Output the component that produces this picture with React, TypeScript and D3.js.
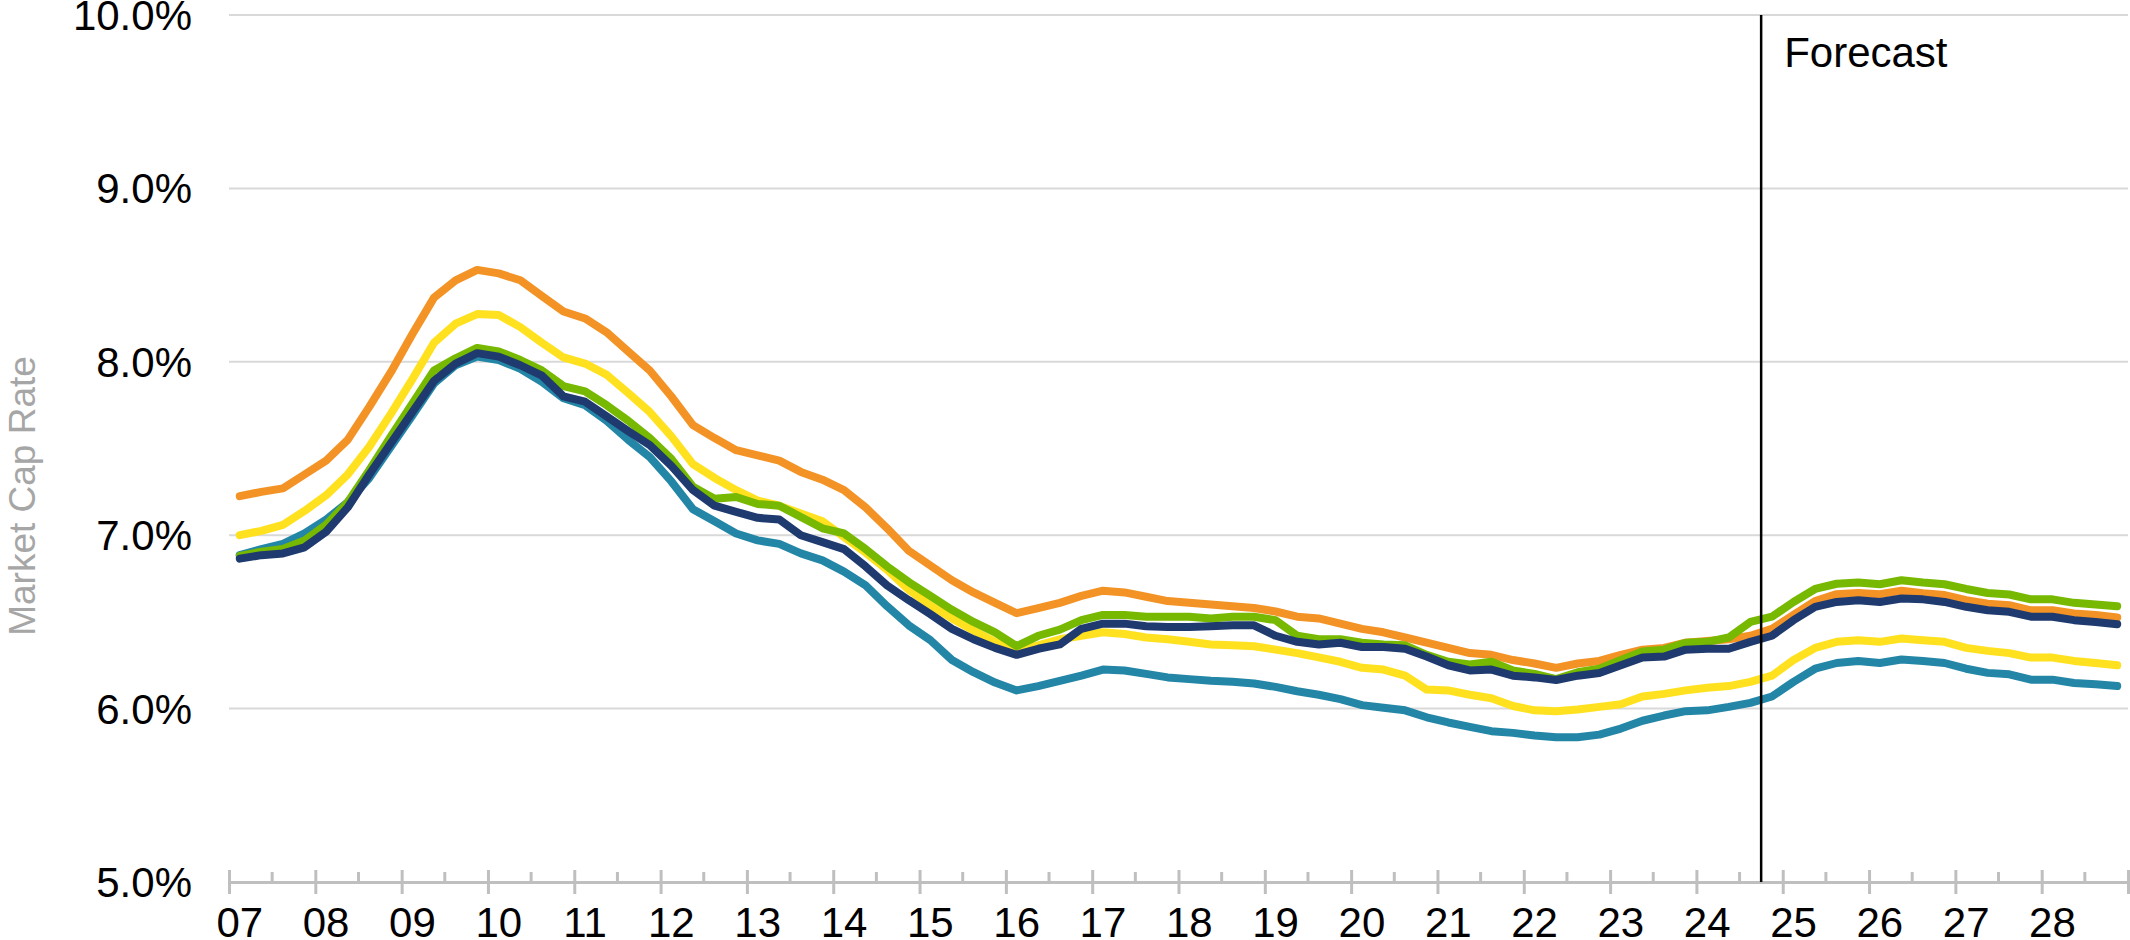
import * as d3 from 'd3';
import React, { useRef, useEffect } from 'react';

// quarterly cap rates (%), 2007 Q1 .. 2028 Q4
const yearLabels = ['07', '08', '09', '10', '11', '12', '13', '14', '15', '16', '17',
    '18', '19', '20', '21', '22', '23', '24', '25', '26', '27', '28'];
const yTicks = [5, 6, 7, 8, 9, 10];
const forecastStart = 2024.75;

const orangeSeries = [
    7.225, 7.25, 7.27, 7.35, 7.43, 7.55, 7.74, 7.94, 8.16, 8.37,
    8.47, 8.53, 8.51, 8.47, 8.38, 8.29, 8.25, 8.17, 8.06, 7.95,
    7.80, 7.635, 7.56, 7.49, 7.46, 7.43, 7.365, 7.32, 7.26, 7.16,
    7.04, 6.91, 6.825, 6.74, 6.67, 6.61, 6.55, 6.58, 6.61, 6.65,
    6.68, 6.67, 6.645, 6.62, 6.61, 6.60, 6.59, 6.58, 6.56, 6.53,
    6.52, 6.49, 6.46, 6.44, 6.41, 6.38, 6.35, 6.32, 6.31, 6.28,
    6.26, 6.235, 6.26, 6.275, 6.31, 6.34, 6.35, 6.38, 6.39, 6.40,
    6.42, 6.46, 6.54, 6.62, 6.66, 6.667, 6.66, 6.68, 6.665, 6.655,
    6.625, 6.605, 6.596, 6.567, 6.567, 6.548, 6.54, 6.525
];

const yellowSeries = [
    7.0, 7.025, 7.06, 7.14, 7.23, 7.35, 7.51, 7.70, 7.90, 8.11,
    8.22, 8.275, 8.27, 8.20, 8.11, 8.025, 7.99, 7.925, 7.82, 7.71,
    7.57, 7.41, 7.33, 7.26, 7.20, 7.17, 7.125, 7.08, 6.99, 6.90,
    6.80, 6.685, 6.595, 6.52, 6.45, 6.385, 6.33, 6.365, 6.40, 6.42,
    6.44, 6.43, 6.41, 6.40, 6.385, 6.37, 6.365, 6.36, 6.34, 6.32,
    6.295, 6.27, 6.235, 6.225, 6.19, 6.11, 6.105, 6.08, 6.06, 6.015,
    5.99, 5.985, 5.995, 6.01, 6.025, 6.07, 6.085, 6.105, 6.12, 6.13,
    6.154, 6.19, 6.28, 6.35, 6.385, 6.394, 6.385, 6.404, 6.394, 6.385,
    6.35, 6.333, 6.32, 6.294, 6.294, 6.275, 6.263, 6.25
];

const greenSeries = [
    6.88, 6.905, 6.92, 6.97, 7.06, 7.19, 7.375, 7.57, 7.76, 7.95,
    8.02, 8.08, 8.06, 8.01, 7.95, 7.86, 7.83, 7.75, 7.66, 7.56,
    7.44, 7.28, 7.21, 7.22, 7.18, 7.17, 7.105, 7.04, 7.01, 6.92,
    6.82, 6.73, 6.65, 6.57, 6.50, 6.44, 6.36, 6.42, 6.455, 6.51,
    6.54, 6.54, 6.53, 6.53, 6.53, 6.52, 6.53, 6.53, 6.51, 6.42,
    6.40, 6.40, 6.38, 6.37, 6.365, 6.31, 6.27, 6.255, 6.27, 6.22,
    6.20, 6.17, 6.21, 6.23, 6.28, 6.33, 6.34, 6.38, 6.385, 6.41,
    6.50, 6.53, 6.615, 6.69, 6.72, 6.727, 6.717, 6.74, 6.727, 6.717,
    6.69, 6.667, 6.658, 6.63, 6.63, 6.61, 6.60, 6.59
];

const navySeries = [
    6.865, 6.885, 6.895, 6.93, 7.02, 7.16, 7.35, 7.53, 7.71, 7.89,
    7.99, 8.05, 8.03, 7.98, 7.92, 7.80, 7.77, 7.685, 7.60, 7.52,
    7.40, 7.26, 7.17, 7.135, 7.10, 7.09, 7.00, 6.96, 6.92, 6.82,
    6.71, 6.625, 6.545, 6.46, 6.40, 6.35, 6.31, 6.345, 6.37, 6.46,
    6.49, 6.49, 6.475, 6.47, 6.47, 6.475, 6.48, 6.48, 6.42, 6.385,
    6.37, 6.38, 6.355, 6.355, 6.345, 6.30, 6.25, 6.22, 6.225, 6.19,
    6.18, 6.165, 6.19, 6.205, 6.25, 6.295, 6.30, 6.34, 6.345, 6.345,
    6.385, 6.42, 6.51, 6.587, 6.615, 6.625, 6.615, 6.635, 6.63, 6.615,
    6.587, 6.567, 6.558, 6.53, 6.53, 6.51, 6.50, 6.487
];

const tealSeries = [
    6.885, 6.92, 6.95, 7.01, 7.09, 7.19, 7.33, 7.51, 7.69, 7.875,
    7.98, 8.03, 8.01, 7.96, 7.885, 7.79, 7.75, 7.66, 7.55, 7.45,
    7.31, 7.15, 7.08, 7.01, 6.97, 6.95, 6.895, 6.855, 6.79, 6.71,
    6.59, 6.48, 6.395, 6.28, 6.21, 6.15, 6.105, 6.13, 6.16, 6.19,
    6.225, 6.22, 6.20, 6.18, 6.17, 6.16, 6.155, 6.145, 6.125, 6.10,
    6.08, 6.055, 6.02, 6.005, 5.99, 5.95, 5.92, 5.895, 5.87, 5.86,
    5.845, 5.835, 5.835, 5.85, 5.885, 5.93, 5.96, 5.985, 5.99, 6.01,
    6.033, 6.07, 6.154, 6.23, 6.263, 6.275, 6.263, 6.283, 6.275, 6.263,
    6.23, 6.206, 6.198, 6.167, 6.167, 6.148, 6.14, 6.13
];

// drawing order: first is at the back
const series = [
    { color: '#2386A7', values: tealSeries },
    { color: '#F39325', values: orangeSeries },
    { color: '#FFE11F', values: yellowSeries },
    { color: '#76B900', values: greenSeries },
    { color: '#1F3A6E', values: navySeries },
];

const font = "'Liberation Sans', Arial, sans-serif";

function CapRateChart({ width, height }: { width: number, height: number }) {
    const ref = useRef<SVGSVGElement>(null);
    const left = 229;
    const right = 2128;
    const top = 15;
    const bottom = 882;

    useEffect(() => {
        draw();
    }, []);

    const draw = () => {
        const svg = d3.select(ref.current);
        svg.selectAll('*').remove();

        const firstYear = 2007;
        const x = d3.scaleLinear()
            .domain([firstYear, firstYear + yearLabels.length])
            .range([left, right]);
        const y = d3.scaleLinear()
            .domain([5, 10])
            .range([bottom, top]);

        // gridlines
        svg.append('g')
            .selectAll('line')
            .data(yTicks.filter(d => d > 5))
            .join('line')
            .attr('x1', left)
            .attr('x2', right)
            .attr('y1', d => y(d))
            .attr('y2', d => y(d))
            .attr('stroke', '#d9d9d9')
            .attr('stroke-width', 2);

        // y labels
        svg.append('g')
            .selectAll('text')
            .data(yTicks)
            .join('text')
            .attr('x', 192)
            .attr('y', d => y(d) + 15)
            .attr('text-anchor', 'end')
            .attr('font-family', font)
            .attr('font-size', 42)
            .attr('fill', '#000')
            .text(d => d.toFixed(1) + '%');

        // y title
        svg.append('text')
            .attr('transform', 'translate(35, 496) rotate(-90)')
            .attr('text-anchor', 'middle')
            .attr('font-family', font)
            .attr('font-size', 37)
            .attr('fill', '#a6a6a6')
            .text('Market Cap Rate');

        // x axis with cross ticks at each year
        const years = d3.range(firstYear, firstYear + yearLabels.length + 1);
        const xAxis = svg.append('g')
            .attr('transform', `translate(0, ${bottom})`)
            .call(d3.axisBottom(x).tickValues(years).tickSize(12).tickFormat(() => ''));
        xAxis.select('.domain')
            .attr('stroke', '#bfbfbf')
            .attr('stroke-width', 3);
        xAxis.selectAll('.tick line')
            .attr('y1', -12)
            .attr('stroke', '#bfbfbf')
            .attr('stroke-width', 3);

        // minor ticks mid-year
        svg.append('g')
            .selectAll('line')
            .data(years.slice(0, -1).map(d => d + 0.5))
            .join('line')
            .attr('x1', d => x(d))
            .attr('x2', d => x(d))
            .attr('y1', bottom - 10)
            .attr('y2', bottom)
            .attr('stroke', '#bfbfbf')
            .attr('stroke-width', 3);

        // year labels sit on the first quarter
        svg.append('g')
            .selectAll('text')
            .data(yearLabels)
            .join('text')
            .attr('x', (d, i) => x(firstYear + i + 0.125))
            .attr('y', 937)
            .attr('text-anchor', 'middle')
            .attr('font-family', font)
            .attr('font-size', 42)
            .attr('fill', '#000')
            .text(d => d);

        // lines
        const line = d3.line<number>()
            .x((d, i) => x(firstYear + (i + 0.5) / 4))
            .y(d => y(d));

        svg.append('g')
            .selectAll('path')
            .data(series)
            .join('path')
            .attr('d', d => line(d.values))
            .attr('fill', 'none')
            .attr('stroke', d => d.color)
            .attr('stroke-width', 8)
            .attr('stroke-linejoin', 'round')
            .attr('stroke-linecap', 'round');

        // forecast marker
        svg.append('line')
            .attr('x1', x(forecastStart))
            .attr('x2', x(forecastStart))
            .attr('y1', y(10))
            .attr('y2', bottom)
            .attr('stroke', '#000')
            .attr('stroke-width', 2.5);

        svg.append('text')
            .attr('x', x(forecastStart) + 23)
            .attr('y', 67)
            .attr('font-family', font)
            .attr('font-size', 42)
            .attr('fill', '#000')
            .text('Forecast');
    };

    return (
        <svg ref={ref} width={width} height={height}
            style={{ position: 'fixed', left: 0, top: 0, background: '#fff' }}>
        </svg>
    );
}

export default function App() {
    return <CapRateChart width={2130} height={940} />;
}
